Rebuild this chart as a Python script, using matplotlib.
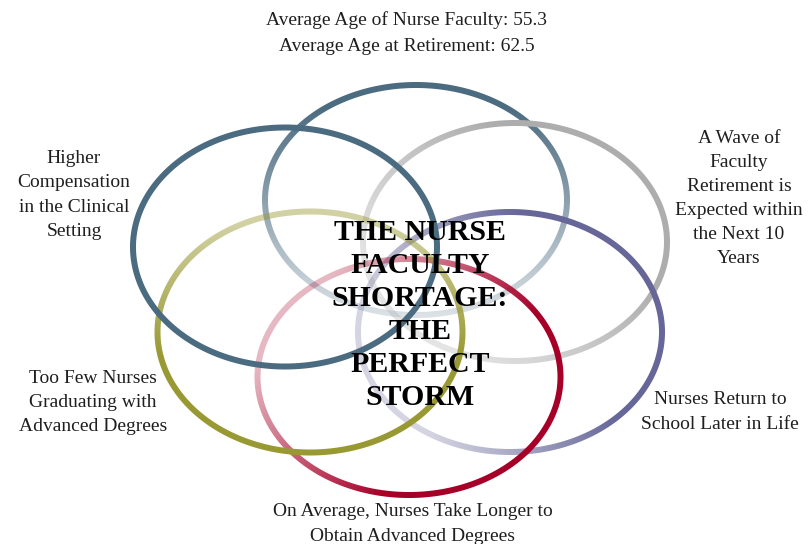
import numpy as np
import matplotlib
matplotlib.use("Agg")
import matplotlib.pyplot as plt
from matplotlib.path import Path
from matplotlib.colors import to_rgb

# ---- content ----
title_lines = ["THE NURSE", "FACULTY", "SHORTAGE:", "THE", "PERFECT", "STORM"]
factor_labels = [
    "Average Age of Nurse Faculty: 55.3\nAverage Age at Retirement: 62.5",
    "A Wave of\nFaculty\nRetirement is\nExpected within\nthe Next 10\nYears",
    "Nurses Return to\nSchool Later in Life",
    "On Average, Nurses Take Longer to\nObtain Advanced Degrees",
    "Too Few Nurses\nGraduating with\nAdvanced Degrees",
    "Higher\nCompensation\nin the Clinical\nSetting",
]
ring_colors = ["#4b6b80", "#adadad", "#666699", "#a60028", "#999933", "#4b6b80"]

# ---- layout (pixel coordinates, y downward) ----
W, H = 809, 544
ring_centers = [(416, 200), (515, 242), (510, 332), (409, 377), (310, 332), (285, 247)]
ring_sizes = [(302, 230), (304, 238), (304, 240), (303, 236), (305, 241), (304, 239)]
fade_angles = [90, 45, 25, -40, -90, None]
fade_ranges = [(-1.0, 0.8), (-0.9, 0.5), (-0.8, 0.4), (-0.9, 0.4), (-0.9, 0.2), None]
fade_min_alpha = [0.2, 0.32, 0.28, 0.28, 0.45, 1.0]
label_first_baseline = [(407, 25), (739, 143), (720, 404), (413, 516), (93, 383), (74, 163)]
label_step = [26, 24, 25, 25, 24, 24.3]
title_pos = (420, 240)
title_step = 33
ring_half_width = 3.0

fig = plt.figure(figsize=(W / 100, H / 100), dpi=100)
ax = fig.add_axes([0, 0, 1, 1])
ax.set_xlim(0, W)
ax.set_ylim(H, 0)
ax.axis("off")

yy, xx = np.mgrid[0:H, 0:W] + 0.5
t = np.linspace(0, 2 * np.pi, 721)

for i, ((cx, cy), (w, h), col, ang, rng, amin) in enumerate(
        zip(ring_centers, ring_sizes, ring_colors, fade_angles, fade_ranges, fade_min_alpha)):
    a, b = w / 2, h / 2
    if ang is None:
        alpha = np.ones((H, W))
    else:
        ux, uy = np.cos(np.radians(ang)), -np.sin(np.radians(ang))
        R = np.hypot(a * ux, b * uy)
        s = ((xx - cx) * ux + (yy - cy) * uy) / R
        f = np.clip((s - rng[0]) / (rng[1] - rng[0]), 0, 1)
        alpha = amin + (1 - amin) * f
    img = np.zeros((H, W, 4))
    img[..., :3] = to_rgb(col)
    img[..., 3] = alpha
    im = ax.imshow(img, extent=(0, W, H, 0), origin="upper", interpolation="nearest", zorder=1 + i)
    ro = np.column_stack([cx + (a + ring_half_width) * np.cos(t), cy + (b + ring_half_width) * np.sin(t)])
    ri = np.column_stack([cx + (a - ring_half_width) * np.cos(-t), cy + (b - ring_half_width) * np.sin(-t)])
    n = len(t)
    codes = [Path.MOVETO] + [Path.LINETO] * (n - 2) + [Path.CLOSEPOLY]
    path = Path(np.vstack([ro, ri]), codes + codes)
    im.set_clip_path(path, transform=ax.transData)

ax.set_xlim(0, W)
ax.set_ylim(H, 0)

for lab, (x0, y0), step in zip(factor_labels, label_first_baseline, label_step):
    for k, line in enumerate(lab.split("\n")):
        ax.text(x0, y0 + k * step, line, ha="center", va="baseline",
                fontsize=14, family="Liberation Serif", color="#1f1f1f", zorder=20)

for k, line in enumerate(title_lines):
    ax.text(title_pos[0], title_pos[1] + k * title_step, line, ha="center", va="baseline",
            fontsize=21.5, family="Liberation Serif", fontweight="bold", color="black", zorder=21)

fig.savefig("out.png", dpi=100, facecolor="white")
